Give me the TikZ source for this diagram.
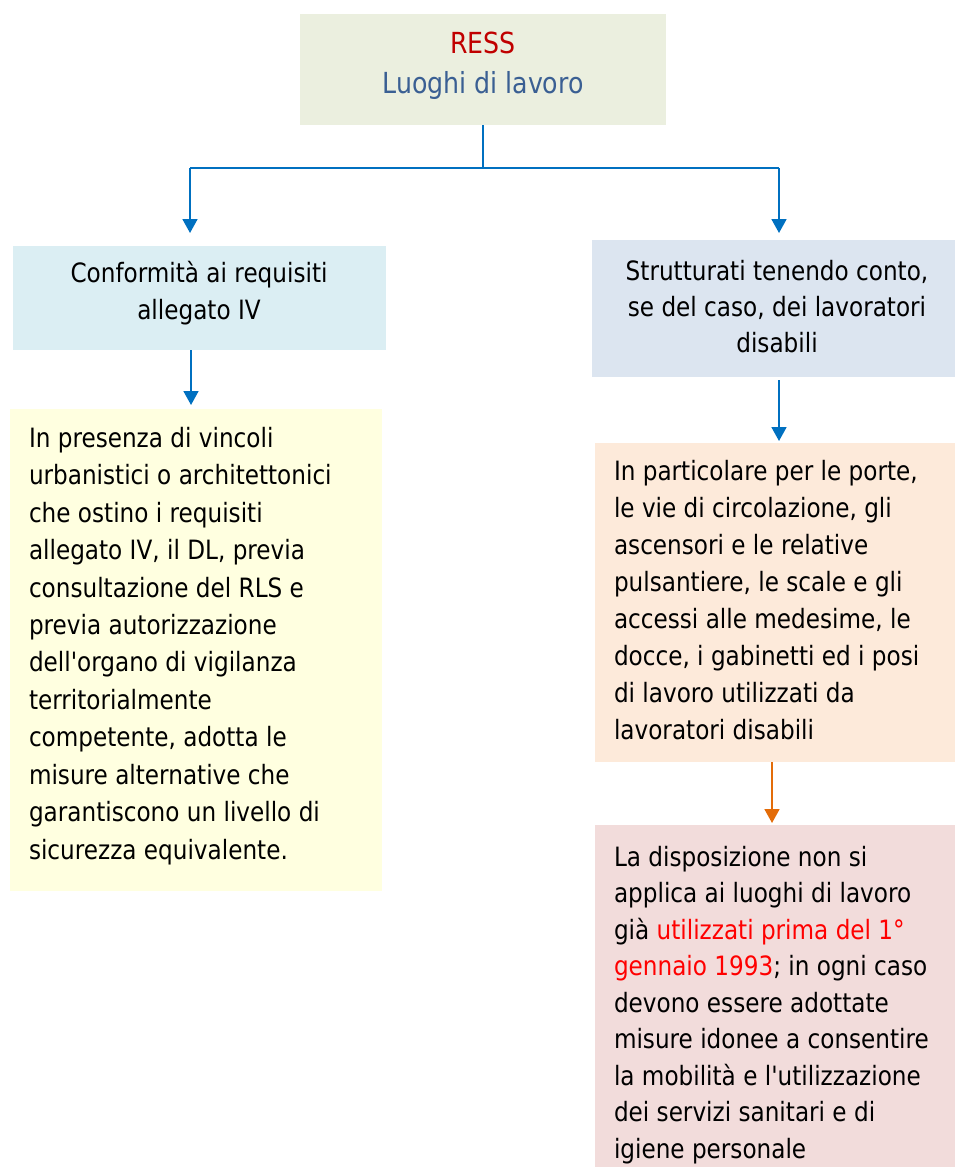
\documentclass[tikz,border=0pt]{standalone}
\usepackage{fontspec}
\setmainfont{DejaVu Sans}[FakeStretch=0.87,Ligatures=TeXOff]
\usetikzlibrary{arrows.meta}
\definecolor{topfill}{HTML}{EBEFDF}
\definecolor{lbfill}{HTML}{DBEEF3}
\definecolor{lyfill}{HTML}{FFFFE0}
\definecolor{rbfill}{HTML}{DCE5F0}
\definecolor{rpfill}{HTML}{FDEADA}
\definecolor{rrfill}{HTML}{F2DCDB}
\definecolor{linkblue}{HTML}{0070C0}
\definecolor{linkorange}{HTML}{E36C09}
\definecolor{ressred}{HTML}{C00000}
\definecolor{luoghiblue}{HTML}{3A5F93}
\definecolor{hired}{HTML}{FF0000}
\tikzset{
  box/.style={draw=none,inner sep=0pt,outer sep=0pt,anchor=north west},
  txt/.style={inner sep=0pt,outer sep=0pt,text=black},
  bluearrow/.style={draw=linkblue,line width=1.8pt,-{Triangle[length=14pt,width=15pt]}},
  orangearrow/.style={draw=linkorange,line width=1.8pt,-{Triangle[length=14pt,width=15pt]}},
  blueline/.style={draw=linkblue,line width=1.8pt},
}
\begin{document}
\begin{tikzpicture}[x=1pt,y=-1pt]
\useasboundingbox (0,0) rectangle (955,1167);
% boxes
\node[box,fill=topfill,minimum width=366pt,minimum height=111pt] (top) at (300,14) {};
\node[box,fill=lbfill,minimum width=373pt,minimum height=104pt] (lb) at (13,246) {};
\node[box,fill=lyfill,minimum width=372pt,minimum height=482pt] (ly) at (10,409) {};
\node[box,fill=rbfill,minimum width=363pt,minimum height=137pt] (rb) at (592,240) {};
\node[box,fill=rpfill,minimum width=360pt,minimum height=319pt] (rp) at (595,443) {};
\node[box,fill=rrfill,minimum width=360pt,minimum height=342pt] (rr) at (595,825) {};
% texts
\node[txt,anchor=center,align=center,font=\fontsize{29}{40}\selectfont] (toptxt) at (483,66)
  {\textcolor{ressred}{RESS}\\\textcolor{luoghiblue}{Luoghi di lavoro}};
\node[txt,anchor=center,align=center,font=\fontsize{26.6}{37}\selectfont] (lbtxt) at (199,293)
  {Conformità ai requisiti\\allegato IV};
\node[txt,anchor=center,align=center,font=\fontsize{26.6}{36}\selectfont] (rbtxt) at (777,307)
  {Strutturati tenendo conto,\\se del caso, dei lavoratori\\disabili};
\node[txt,anchor=north west,align=left,font=\fontsize{26.6}{37.45}\selectfont] (lytxt) at (29,427)
  {In presenza di vincoli\\urbanistici o architettonici\\che ostino i requisiti\\allegato IV, il DL, previa\\consultazione del RLS e\\previa autorizzazione\\dell'organo di vigilanza\\territorialmente\\competente, adotta le\\misure alternative che\\garantiscono un livello di\\sicurezza equivalente.};
\node[txt,anchor=north west,align=left,font=\fontsize{26.6}{37}\selectfont] (rptxt) at (614,460)
  {In particolare per le porte,\\le vie di circolazione, gli\\ascensori e le relative\\pulsantiere, le scale e gli\\accessi alle medesime, le\\docce, i gabinetti ed i posi\\di lavoro utilizzati da\\lavoratori disabili};
\node[txt,anchor=north west,align=left,font=\fontsize{26.6}{36.5}\selectfont] (rrtxt) at (614,846)
  {La disposizione non si\\applica ai luoghi di lavoro\\già \textcolor{hired}{utilizzati prima del 1°}\\\textcolor{hired}{gennaio 1993}; in ogni caso\\devono essere adottate\\misure idonee a consentire\\la mobilità e l'utilizzazione\\dei servizi sanitari e di\\igiene personale};
% connectors
\coordinate (hub) at (483,168);
\coordinate (hl) at (190,168);
\coordinate (hr) at (779,168);
\draw[blueline] (top.south -| hub) -- (hub);
\draw[blueline] (hl) -- (hr);
\draw[bluearrow] (hl) -- (hl |- 0,233);
\draw[bluearrow] (hr) -- (hr |- 0,233);
\draw[bluearrow] (191,350) -- (191,405);
\draw[bluearrow] (779,380) -- (779,441);
\draw[orangearrow] (772,762) -- (772,823);
\end{tikzpicture}
\end{document}
